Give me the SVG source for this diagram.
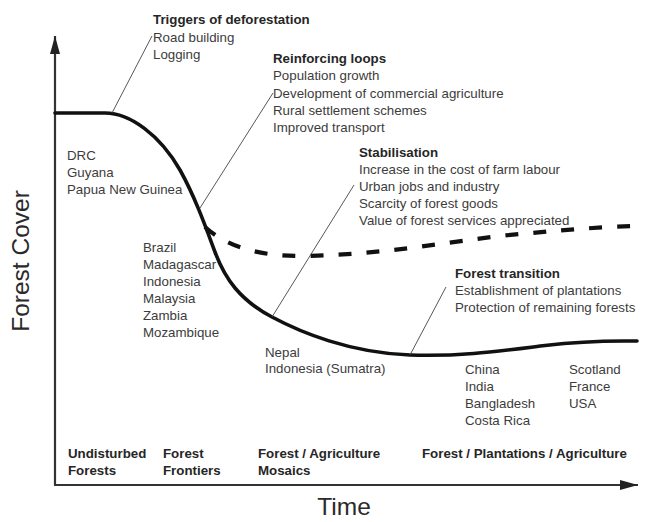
<svg xmlns="http://www.w3.org/2000/svg" width="656" height="522" viewBox="0 0 656 522">
<style>
text{font-family:"Liberation Sans",Arial,sans-serif;font-size:13.3px;fill:#3c3c3c}
.b{font-weight:bold;fill:#262626}
.ax{font-size:24.5px;fill:#2a2a2a}
.axis{stroke:#333;stroke-width:2.2;fill:none}
.solid{stroke:#111;stroke-width:3.6;fill:none;stroke-linecap:round}
.dash{stroke:#111;stroke-width:4.2;fill:none;stroke-dasharray:13 15}
.lead{stroke:#444;stroke-width:0.9;fill:none}
</style>
<defs>
<marker id="arr" viewBox="0 0 18 10" refX="18" refY="5" markerWidth="18" markerHeight="10" markerUnits="userSpaceOnUse" orient="auto">
<path d="M0,0 L18,5 L0,10 Z" fill="#222"/>
</marker>
</defs>
<rect width="656" height="522" fill="#fff"/>
<g id="axes">
<path class="axis" d="M55,485 V36" marker-end="url(#arr)"/>
<path class="axis" d="M54,485 H638" marker-end="url(#arr)"/>
<text class="ax" transform="translate(29,261) rotate(-90)" text-anchor="middle">Forest Cover</text>
<text class="ax" x="344" y="515" text-anchor="middle">Time</text>
</g>
<g id="curves">
<path class="dash" d="M205,227 C225,245 255,256 300,256 C380,255 440,243 500,236 C560,230 600,227 635,226"/>
<path class="solid" d="M55,113 L105,113 C130,113 160,135 180,170 C195,197 205,225 215,252 C225,279 240,300 272,317 C300,332 350,353 410,355 C460,356.7 500,351 545,345.5 C590,340 615,341 637,341"/>
</g>
<g id="connectors">
<line class="lead" x1="112" y1="113" x2="152" y2="36"/>
<line class="lead" x1="200" y1="208" x2="273" y2="93"/>
<line class="lead" x1="272" y1="317" x2="354" y2="185"/>
<line class="lead" x1="410" y1="355" x2="446" y2="287"/>
</g>
<g id="triggers">
<text class="b" x="153" y="24">Triggers of deforestation</text>
<text x="153" y="41.5">Road building</text>
<text x="153" y="59">Logging</text>
</g>
<g id="reinforcing">
<text class="b" x="273" y="62.5">Reinforcing loops</text>
<text x="273" y="80">Population growth</text>
<text x="273" y="97.5">Development of commercial agriculture</text>
<text x="273" y="114.5">Rural settlement schemes</text>
<text x="273" y="131.5">Improved transport</text>
</g>
<g id="stabilisation">
<text class="b" x="359" y="156.5">Stabilisation</text>
<text x="359" y="173.5">Increase in the cost of farm labour</text>
<text x="359" y="190.5">Urban jobs and industry</text>
<text x="359" y="207.5">Scarcity of forest goods</text>
<text x="359" y="224.5">Value of forest services appreciated</text>
</g>
<g id="transition">
<text class="b" x="455" y="277.5">Forest transition</text>
<text x="455" y="294.5">Establishment of plantations</text>
<text x="455" y="311.5">Protection of remaining forests</text>
</g>
<g id="countries-undisturbed">
<text x="67" y="160">DRC</text>
<text x="67" y="177">Guyana</text>
<text x="67" y="194">Papua New Guinea</text>
</g>
<g id="countries-frontier">
<text x="143" y="251.5">Brazil</text>
<text x="143" y="268.5">Madagascar</text>
<text x="143" y="285.5">Indonesia</text>
<text x="143" y="302.5">Malaysia</text>
<text x="143" y="319.5">Zambia</text>
<text x="143" y="336.5">Mozambique</text>
</g>
<g id="countries-mosaic">
<text x="265" y="356.5">Nepal</text>
<text x="265" y="373">Indonesia (Sumatra)</text>
</g>
<g id="countries-plantation">
<text x="465" y="373.5">China</text>
<text x="465" y="390.5">India</text>
<text x="465" y="407.5">Bangladesh</text>
<text x="465" y="424.5">Costa Rica</text>
</g>
<g id="countries-recovered">
<text x="569" y="373.5">Scotland</text>
<text x="569" y="390.5">France</text>
<text x="569" y="407.5">USA</text>
</g>
<g id="stages">
<text class="b" x="68" y="457.5">Undisturbed</text>
<text class="b" x="68" y="475">Forests</text>
<text class="b" x="163" y="457.5">Forest</text>
<text class="b" x="163" y="475">Frontiers</text>
<text class="b" x="258" y="457.5">Forest / Agriculture</text>
<text class="b" x="258" y="475">Mosaics</text>
<text class="b" x="422" y="457.5">Forest / Plantations / Agriculture</text>
</g>
</svg>
